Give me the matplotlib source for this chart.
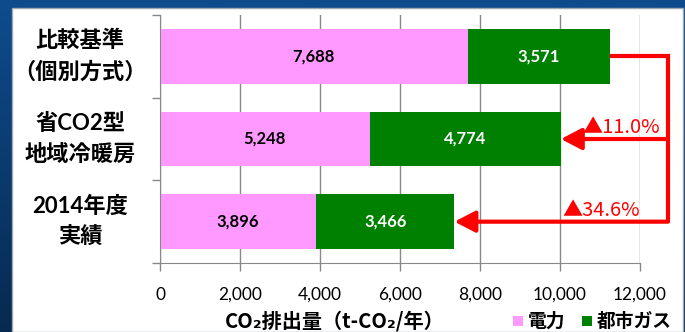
import numpy as np
import matplotlib.pyplot as plt
from matplotlib.colors import LinearSegmentedColormap
from matplotlib.patches import Rectangle

plt.rcParams['font.family'] = ['Lato', 'Noto Sans CJK JP', 'DejaVu Sans']

# data
categories = ['比較基準\n（個別方式）', '省CO2型\n地域冷暖房', '2014年度\n実績']
electricity = [7688, 5248, 3896]
city_gas = [3571, 4774, 3466]
series_names = ['電力', '都市ガス']
xticks = [0, 2000, 4000, 6000, 8000, 10000, 12000]

PINK = '#ff99ff'
GREEN = '#008000'
RED = '#ff0000'

W, H = 685, 332
fig = plt.figure(figsize=(W / 100, H / 100), dpi=100)

# slide background + white panel
bg = fig.add_axes([0, 0, 1, 1])
grad = np.linspace(0, 1, 256).reshape(-1, 1)
bg.imshow(grad, aspect='auto', extent=[0, 1, 0, 1], origin='upper',
          cmap=LinearSegmentedColormap.from_list('bgc', ['#0e4c8e', '#072a50']))
bg.add_patch(Rectangle((12 / W, 0), (683 - 12) / W, (H - 8) / H, transform=bg.transAxes,
                       facecolor='white', edgecolor='#a0a8b0', lw=1))
bg.set_xlim(0, 1)
bg.set_ylim(0, 1)
bg.axis('off')

ax = fig.add_axes([160 / W, 1 - 263 / H, 480 / W, 248 / H])
ax.set_facecolor('none')

y = np.arange(len(categories))
totals = [e + g for e, g in zip(electricity, city_gas)]
bh = 0.665
ax.barh(y, electricity, height=bh, color=PINK, zorder=3)
ax.barh(y, city_gas, left=electricity, height=bh, color=GREEN, zorder=3)

for i in range(len(categories)):
    ax.text(electricity[i] / 2, y[i], f'{electricity[i]:,}', ha='center', va='center',
            fontsize=12, fontweight='bold', color='black', zorder=4)
    ax.text(electricity[i] + city_gas[i] / 2, y[i], f'{city_gas[i]:,}', ha='center', va='center',
            fontsize=12, fontweight='bold', color='white', zorder=4)

ax.set_xlim(0, 12000)
ax.set_ylim(len(categories) - 0.5, -0.5)
ax.set_xticks(xticks)
ax.set_xticklabels([f'{v:,}' for v in xticks], fontsize=12.5)
ax.tick_params(axis='x', length=6, width=1, color='#888888', pad=11)
ax.set_yticks(np.arange(len(categories) + 1) - 0.5)
ax.set_yticklabels([])
ax.tick_params(axis='y', length=6, width=1, color='#888888')
ax.grid(axis='x', color='#888888', lw=1, zorder=1)
for s in ['top', 'right']:
    ax.spines[s].set_visible(False)
for s in ['left', 'bottom']:
    ax.spines[s].set_color('#888888')
    ax.spines[s].set_zorder(5)

# category labels, centred in the left margin
for i, lab in enumerate(categories):
    ax.text(-80 / 480, y[i], lab, transform=ax.get_yaxis_transform(),
            ha='center', va='center', fontsize=16, fontweight='bold', linespacing=1.6)

# reduction arrows
xr = 12700
ax.plot([totals[0], xr, xr], [y[0], y[0], y[2]], color=RED, lw=3,
        solid_joinstyle='miter', solid_capstyle='butt', clip_on=False, zorder=6)
for i, xt in zip((1, 2), (12500, 12000)):
    ax.annotate('', xy=(totals[i], y[i]), xytext=(xr, y[i]),
                arrowprops=dict(arrowstyle='-|>,head_length=1.25,head_width=0.65', mutation_scale=10,
                                lw=3, color=RED, shrinkA=0, shrinkB=0),
                annotation_clip=False, zorder=6)
    pct = (1 - totals[i] / totals[0]) * 100
    ax.text(xt, y[i] - 0.14, f'▲{pct:.1f}%', ha='right', va='center', fontsize=14.5,
            color=RED, zorder=7, family=['Noto Sans CJK JP', 'DejaVu Sans'])

fig.text(335 / W, 1 - 321 / H, 'CO₂排出量（t-CO₂/年）', ha='center', va='center',
         fontsize=14.5, fontweight='bold', family=['Noto Sans CJK JP', 'DejaVu Sans'])

# legend
for name, col, tx in zip(series_names, [PINK, GREEN], [513, 582]):
    fig.patches.append(Rectangle((tx / W, 1 - 326 / H), 10 / W, 10 / H, transform=fig.transFigure,
                                 facecolor=col, edgecolor='none', figure=fig))
    fig.text((tx + 15) / W, 1 - 321 / H, name, ha='left', va='center', fontsize=13.5,
             fontweight='bold', family=['Noto Sans CJK JP'])

fig.savefig('out.png', dpi=100)
